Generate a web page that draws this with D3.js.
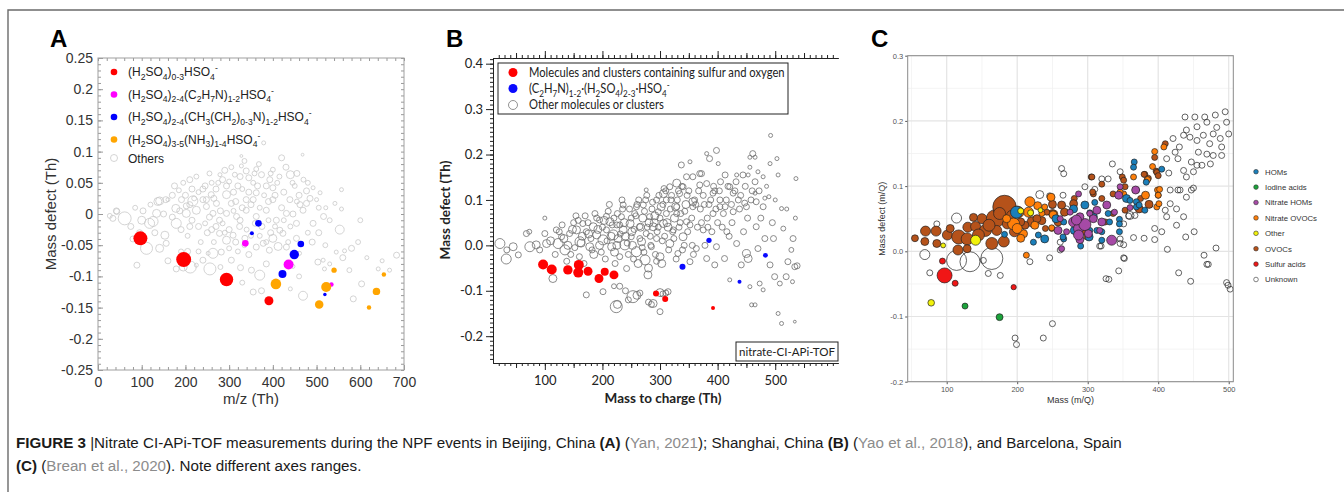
<!DOCTYPE html>
<html><head><meta charset="utf-8">
<script src="https://cdn.jsdelivr.net/npm/d3@7"></script>
<style>body{margin:0;background:#fff}svg{display:block}text{white-space:pre}</style>
</head><body><svg id="c" width="1344" height="492"></svg>
<script>
// ---------------- Panel A data: [m/z, mass defect, intensity] ----------------
const xDomainA = [0, 700], yDomainA = [-0.25, 0.25];
const xTicksA = [0,100,200,300,400,500,600,700];
const yTicksA = [-0.25,-0.2,-0.15,-0.1,-0.05,0,0.05,0.1,0.15,0.2,0.25];
const redA = [[97,-0.039,49],[196,-0.073,56],[294,-0.105,45],[391,-0.139,20]];
const magentaA = [[337,-0.047,11],[436,-0.081,25],[534,-0.113,5]];
const blueA = [[367,-0.015,11],[352,-0.031,4],[464,-0.048,11],[449,-0.065,22],[422,-0.096,16],[519,-0.129,3]];
const orangeA = [[407,-0.112,28],[522,-0.117,25],[506,-0.145,18],[540,-0.090,7],[637,-0.124,14],[654,-0.097,5],[620,-0.150,5]];
const othersA = [[379,0.114,4],[328,0.093,2],[468,0.095,2],[328,0.077,4],[339,0.069,9],[362,0.072,6],[313,0.063,6],[374,0.063,9],[400,0.071,6],[420,0.09,9],[440,0.063,16],[393,0.055,9],[355,0.05,6],[294,0.045,9],[279,0.063,4],[320,0.045,9],[477,0.037,9],[492,0.042,4],[508,0.034,4],[557,0.039,4],[294,0.031,16],[248,0.023,9],[217,0.021,25],[141,0.021,16],[160,0.023,4],[202,0.013,9],[187,0.005,9],[259,0.031,9],[400,0.042,9],[362,0.034,9],[339,0.023,9],[439,0.023,9],[462,0.015,9],[446,0.0,9],[500,0.023,4],[521,0.01,4],[42,0.005,9],[27,-0.003,6],[103,0.005,9],
[61,-0.007,42],[34,-0.007,9],[43,0.004,9],[126,-0.012,25],[118,-0.015,25],[111,-0.055,36],[141,-0.055,16],[153,-0.034,16],[156,-0.047,9],[179,-0.015,25],[134,0.001,16],[137,0.02,16],[155,0.023,9],[178,0.009,16],[191,0.023,9],[210,0.015,9],[202,0.001,16],[225,0.006,16],[240,0.023,9],[248,0.012,9],[263,0.001,9],[271,0.017,9],[278,-0.01,9],[294,0.001,9],[305,0.017,9],[317,-0.004,9],[324,-0.02,9],[339,0.006,9],[355,0.023,9],[362,-0.004,9],[385,0.006,9],[400,0.023,9],[408,-0.01,9],[416,-0.026,9],[431,0.001,9],[454,-0.015,9],[469,0.006,9],[477,0.017,9],[492,-0.015,9],[516,-0.004,9],[553,-0.025,20],[557,0.008,4],[542,0.017,4],[195,-0.085,16],[211,-0.085,36],[240,-0.074,9],[256,-0.088,36],[263,-0.063,25],[282,-0.061,9],[305,-0.074,9],[326,-0.086,9],[351,-0.09,9],[370,-0.098,25],[385,-0.08,9],[355,-0.125,9],[374,-0.123,9],[412,-0.052,16],[392,-0.058,9],[400,-0.039,16],[378,-0.047,9],[362,-0.053,9],[446,-0.084,4],[469,-0.131,20],[490,-0.045,9],[503,-0.077,9],[515,-0.074,4],[518,-0.088,4],[530,-0.08,4],[545,-0.061,4],[564,-0.059,4],[580,-0.055,9],[603,-0.112,9],[584,-0.136,9],[667,-0.09,4],[683,-0.066,9],[641,-0.088,4],[89,-0.082,9],[179,-0.088,9],[225,-0.082,4],[252,-0.063,4],[309,-0.034,9],[278,-0.031,9],[294,-0.042,16],[336,-0.039,9],[423,-0.031,9],[431,-0.053,9],[454,-0.039,9],[461,-0.063,4],
[170,0.03,9],[185,0.038,6],[200,0.03,9],[215,0.04,9],[230,0.035,6],[245,0.045,9],[260,0.05,6],[270,0.04,9],[285,0.055,9],[300,0.052,6],[310,0.035,9],[330,0.04,6],[345,0.058,9],[350,0.015,9],[365,0.045,9],[380,0.03,6],[390,0.02,9],[410,0.05,6],[425,0.035,9],[450,0.045,6],[460,0.03,9],[480,0.05,6],[170,-0.005,9],[190,-0.025,9],[205,-0.035,6],[215,-0.01,9],[230,-0.02,9],[235,-0.045,6],[250,-0.03,9],[255,-0.005,9],[265,-0.045,6],[270,-0.02,9],[285,-0.015,6],[300,-0.025,9],[300,-0.055,6],[315,-0.045,9],[320,-0.06,6],[330,0.01,9],[340,-0.025,6],[345,-0.065,9],[350,-0.035,6],[370,0.01,6],[375,-0.02,9],[390,-0.01,6],[395,-0.03,9],[420,0.01,9],[435,-0.045,6],[440,-0.02,6],[455,0.02,6],[480,-0.03,6],[505,-0.03,9],[520,-0.05,6],[505,0.01,6],[530,-0.01,6],[600,-0.01,6],[615,-0.07,4],[650,-0.075,4],[75,-0.02,9],[85,0.01,6],[95,-0.03,9],[205,-0.06,9],[230,-0.06,6],[160,-0.075,9],[190,-0.06,6],[280,-0.085,6],[330,-0.11,6],[410,-0.11,6],[440,-0.12,4],[460,-0.1,6],[575,-0.09,6],[595,-0.045,6],[560,-0.07,9],
[175,0.045,9],[195,0.05,6],[210,0.055,9],[225,0.06,6],[240,0.04,9],[255,0.065,6],[265,0.025,9],[275,0.05,6],[290,0.07,9],[305,0.075,6],[315,0.02,9],[325,0.06,9],[335,0.085,6],[345,0.035,9],[358,0.065,6],[368,0.08,6],[385,0.045,9],[395,0.065,6],[405,0.03,9],[415,0.06,6],[430,0.075,9],[445,0.05,6],[455,0.065,9],[470,0.055,6],[485,0.025,9],[210,-0.02,9],[220,0.025,6],[245,-0.015,6],[260,-0.025,9],[280,0.005,9],[290,-0.03,6],[310,0.005,6],[325,-0.01,9],[335,-0.05,6],[360,-0.015,9],[370,-0.035,6],[385,-0.045,6],[405,-0.02,6],[425,-0.01,6],[150,0.0,9],[120,0.015,6],[100,-0.01,16],[80,-0.04,9],[130,-0.03,9]];

// ---------------- Panel B data ----------------
const xDomainB = [10, 609], yDomainB = [-0.259, 0.4125];
const xTicksB = [100,200,300,400,500];
const yTicksB = [-0.2,-0.1,0.0,0.1,0.2,0.3,0.4];
const redB = [[97,-0.042,25],[112,-0.053,25],[140,-0.054,22],[158,-0.060,25],[159,-0.043,25],[175,-0.057,20],[194,-0.073,20],[204,-0.058,16],[220,-0.065,20],[293,-0.106,9],[309,-0.118,9],[392,-0.138,4]];
const blueB = [[339,-0.047,9],[385,0.011,7],[438,-0.080,4],[483,-0.022,6]];
const othersB = [[22,0.004,25],[33,-0.03,25],[34,-0.01,9],[45,-0.003,16],[54,-0.021,9],[68,0.026,9],[73,0.03,6],[74,-0.003,25],[85,0.001,16],[91,-0.01,9],[100,0.06,4],[100,0.026,9],[103,0.004,16],[114,-0.073,16],[120,0.034,9],[123,0.004,25],[129,0.019,9],[135,-0.01,25],[143,0.026,9],[154,0.065,9],[155,0.034,16],[161,0.008,25],[166,0.048,9],[172,0.03,9],[172,-0.109,9],[178,-0.003,16],[184,0.041,16],[190,0.023,16],[195,0.056,9],[201,0.012,25],[201,-0.102,9],[207,0.034,9],[213,0.052,16],[216,-0.003,16],[219,0.023,25],[225,0.045,9],[227,0.015,16],[230,-0.025,9],[233,0.063,9],[236,0.034,16],[239,0.001,25],[242,-0.051,9],[248,0.048,16],[250,0.019,9],[253,-0.113,36],[256,0.07,9],[259,-0.014,25],[265,0.041,9],[268,0.008,16],[271,0.089,9],[274,-0.032,25],[276,0.026,9],[279,-0.065,16],[282,0.063,9],[285,-0.003,9],[288,0.041,16],[288,-0.128,16],[294,0.015,9],[297,0.074,9],[300,-0.025,16],[300,-0.146,9],[306,0.048,16],[311,0.1,9],[314,-0.102,9],[317,0.004,16],[323,0.034,9],[329,0.07,9],[331,-0.018,9],[334,0.114,9],[340,0.019,16],[346,0.052,9],[352,-0.036,9],[357,0.085,9],[363,-0.007,9],[369,0.133,9],[375,0.034,9],[381,-0.029,9],[392,0.07,9],[395,-0.043,9],[398,-0.003,9],[404,0.1,9],[412,-0.029,9],[416,0.03,9],[421,-0.076,4],[427,0.074,9],[433,0.004,9],[441,-0.043,9],[447,0.093,9],[450,-0.018,16],[453,-0.029,16],[456,-0.091,4],[459,-0.131,4],[465,-0.131,4],[467,0.041,9],[470,-0.007,9],[473,-0.084,6],[479,-0.098,4],[482,0.015,9],[491,-0.043,9],[497,0.015,9],[499,-0.069,9],[505,-0.15,4],[508,-0.084,6],[511,-0.172,4],[514,0.037,6],[519,-0.069,9],[522,-0.036,9],[528,-0.01,6],[531,0.015,9],[534,-0.047,9],
[300,-0.104,16],[305,-0.107,9],[310,-0.105,9],[280,-0.125,9],[285,-0.13,9],[240,-0.1,9],[245,-0.12,9],[230,-0.09,9],[265,-0.105,9],[260,-0.11,16],[220,-0.09,6],[224,-0.135,36],[226,-0.13,16],
[207,0.064,9],[236,0.089,9],[259,0.085,9],[276,0.122,4],[294,0.1,9],[306,0.114,16],[317,0.129,9],[329,0.137,16],[337,0.177,9],[346,0.151,9],[352,0.184,4],[357,0.096,16],[369,0.158,9],[372,0.158,9],[381,0.202,4],[386,0.191,9],[398,0.209,9],[401,0.18,4],[413,0.155,9],[381,0.136,9],[392,0.115,9],[404,0.085,9],[427,0.115,9],[433,0.155,4],[444,0.155,9],[453,0.155,4],[456,0.194,4],[461,0.202,9],[465,0.194,4],[456,0.172,4],[470,0.162,4],[479,0.151,4],[491,0.18,4],[503,0.191,4],[492,0.242,4],[505,0.155,4],[536,0.147,4],[511,0.081,4],[421,0.129,9],[436,0.1,9],[450,0.085,9],[467,0.096,9],[479,0.085,9],[489,0.107,4],[465,0.115,4],[482,0.104,4],[357,0.151,9],[340,0.129,9],[329,0.085,9],
[130,0.045,9],[140,0.0,16],[145,-0.02,9],[150,0.05,9],[160,-0.025,9],[165,0.02,16],[175,0.05,9],[180,0.015,9],[185,-0.02,16],[190,0.06,9],[195,0.0,16],[200,0.04,9],[205,-0.03,9],[210,0.075,9],[215,0.02,16],[220,0.06,9],[222,-0.04,9],[225,0.0,16],[230,0.045,9],[235,0.08,9],[240,0.02,16],[245,-0.02,9],[250,0.06,9],[252,0.0,16],[255,0.035,9],[260,0.09,9],[262,-0.04,16],[265,0.015,9],[270,0.06,16],[272,-0.015,9],[275,0.1,9],[278,0.04,9],[280,-0.05,16],[283,0.02,9],[286,0.08,9],[290,0.05,16],[292,-0.02,9],[295,0.03,9],[298,0.11,9],[300,0.06,9],[303,-0.04,16],[305,0.09,9],[308,0.02,9],[310,0.12,9],[312,0.05,16],[315,-0.01,9],[318,0.08,9],[320,0.11,9],[322,0.03,9],[325,0.06,16],[328,-0.03,9],[330,0.1,9],[333,0.04,9],[336,0.07,9],[338,0.13,9],[342,0.0,9],[345,0.09,16],[348,0.03,9],[350,0.12,9],[355,0.06,9],[358,-0.02,9],[360,0.1,9],[365,0.04,9],[370,0.08,9],[375,0.11,9],[378,0.0,9],[382,0.06,9],[385,0.09,9],[390,0.03,9],[395,0.12,9],[400,0.05,9],[405,0.14,9],[410,0.07,9],[415,0.1,9],[420,0.02,9],[425,0.05,9],[430,0.12,9],[438,0.08,9],[445,0.03,9],[452,0.06,9],[460,0.12,9],[475,0.06,9],[485,0.13,4],[495,0.05,9],[500,0.1,4],[520,0.08,4],[535,0.06,4],[538,-0.045,9],[530,-0.08,4],[534,-0.168,2],
[110,0.01,16],[118,-0.02,9],[125,0.03,9],[133,0.015,16],[138,-0.035,9],[148,0.035,16],[152,-0.005,9],[158,0.055,9],[163,0.005,16],[168,-0.04,9],[170,0.065,9],[176,0.025,16],[182,-0.01,9],[187,0.07,9],[192,0.035,16],[198,-0.015,9],[203,0.055,16],[208,0.01,9],[212,0.09,9],[217,0.045,9],[221,-0.015,16],[226,0.07,9],[231,0.025,9],[234,0.1,9],[238,0.05,16],[243,0.005,9],[247,0.08,9],[251,0.03,16],[254,-0.03,9],[258,0.065,9],[263,0.1,9],[266,0.04,16],[269,-0.005,9],[273,0.075,9],[277,0.11,9],[281,0.05,16],[284,0.0,9],[287,0.095,9],[291,0.065,16],[294,-0.035,9],[297,0.04,9],[302,0.085,16],[304,0.01,9],[307,0.125,9],[311,0.07,9],[314,0.04,16],[319,0.1,9],[324,0.015,9],[327,0.085,16],[332,0.12,9],[335,0.05,9],[339,-0.01,9],[343,0.075,9],[347,0.11,9],[352,0.045,9],[356,0.0,9],[362,0.09,9],[367,0.12,9],[372,0.05,9],[377,0.09,9],[383,0.04,9],[388,0.1,9],[393,0.13,9],[397,0.08,9],[403,0.12,9],[408,0.04,9],[413,0.085,9],[418,0.13,9],[424,0.09,9],[432,0.14,9],[440,0.11,9],[448,0.13,9],[458,0.1,9],[465,0.14,9],[472,0.12,9]];

// ---------------- Panel C data ----------------
const xDomainC = [44.7, 506.5], yDomainC = [-0.2, 0.3];
const xTicksC = [100,200,300,400,500];
const yTicksC = [-0.2,-0.1,0.0,0.1,0.2,0.3];
const classesC = ["HOMs","Iodine acids","Nitrate HOMs","Nitrate OVOCs","Other","OVOCs","Sulfur acids","Unknown"];
const unknownC = [[114,0.051,25],[86,0.042,9],[69,-0.005,25],[76,-0.033,9],[114,-0.014,100],[133,-0.016,100],[164,-0.011,121],[152,-0.014,9],[159,-0.034,9],[176,-0.037,9],[197,-0.133,9],[199,-0.143,9],[237,-0.133,9],[250,-0.111,9],[218,-0.016,9],[246,-0.01,9],[261,0.002,9],[261,0.014,9],[317,0.008,9],[351,0.01,9],[351,-0.01,9],[344,-0.03,9],[326,-0.042,9],[330,-0.043,9],[351,0.042,9],[358,0.054,9],[365,0.021,9],[395,0.035,9],[395,0.018,9],[232,0.087,16],[246,0.085,9],[265,0.086,9],[296,0.099,9],[263,0.127,9],[266,0.119,9],[320,0.111,9],[329,0.111,9],[335,0.134,9],[346,0.122,9],[360,0.055,16],[367,0.055,9],[319,0.008,9],[346,0.012,9],[346,0.019,9],[352,-0.011,9],[405,0.03,9],[413,0.003,9],[421,0.173,9],[412,0.142,9],[424,0.152,9],[428,0.142,9],[417,0.094,9],[431,0.094,9],[417,0.073,9],[426,0.065,9],[410,0.063,9],[412,0.053,9],[436,0.053,9],[426,0.04,9],[440,0.083,9],[440,0.114,9],[447,0.094,9],[450,0.097,9],[438,0.206,9],[452,0.206,9],[466,0.206,9],[481,0.209,9],[495,0.214,9],[497,0.198,9],[469,0.198,9],[455,0.191,9],[440,0.186,9],[436,0.178,9],[445,0.175,9],[455,0.17,9],[464,0.178,9],[478,0.18,9],[488,0.173,9],[500,0.18,9],[473,0.165,9],[457,0.152,9],[469,0.149,9],[478,0.147,9],[490,0.147,9],[455,0.132,9],[462,0.132,9],[474,0.134,9],[447,0.137,9],[436,0.124,9],[450,0.122,9],[439,0.022,9],[451,0.03,9],[482,0.005,9],[465,-0.006,9],[469,-0.02,9],[471,-0.02,9],[429,-0.033,9],[446,-0.046,9],[497,-0.048,9],[499,-0.052,9],[502,-0.058,9],[483,0.19,9],[428,0.094,9],[160,0.04,9],[205,0.035,9],[220,0.05,9],[250,0.07,9],[270,0.065,9],[310,0.095,9],[380,0.02,9],[415,0.12,9],[430,0.16,9],[490,0.16,9]];
const ovocC = [[55,0.02,12],[69,0.015,16],[70,0.031,25],[85,0.031,25],[86,0.012,16],[101,0.025,25],[117,0.022,49],[116,0.002,25],[130,0.037,25],[129,0.019,36],[129,0.004,16],[141,0.038,25],[150,0.05,25],[155,0.032,36],[164,0.012,36],[169,0.05,81],[182,0.068,137],[181,0.015,30],[171,0.032,25],[186,0.042,25],[221,0.045,25],[211,0.04,16],[235,0.047,16],[250,0.058,16],[267,0.06,16],[281,0.081,9],[250,0.072,16],[294,0.03,9],[308,0.088,9],[325,0.045,9],[336,0.058,9],[353,0.063,9],[373,0.065,16],[388,0.071,9],[400,0.086,9],[305,0.114,9],[320,0.103,9],[349,0.114,9],[381,0.118,9],[386,0.112,9],[395,0.144,9],[397,0.123,9],[280,0.073,16],[263,0.071,16],[242,0.06,9],[306,0.114,9],[351,0.109,9],[353,0.099,9],[375,0.081,9],[387,0.072,16],[410,0.165,9],[380,0.118,9],[398,0.121,9],[400,0.116,9],[307,0.091,9],[336,0.088,9],[320,0.081,9],[196,0.03,25],[205,0.045,16],[228,0.05,16],[175,0.058,36],[160,0.04,36],[145,0.025,36],[105,0.035,16],[138,0.052,16],[192,0.055,25],[240,0.035,9],[258,0.045,16]];
const nitOvocC = [[216,0.06,25],[229,0.07,16],[218,0.076,25],[201,0.06,36],[195,0.042,36],[209,0.027,16],[213,-0.006,9],[252,0.057,16],[249,0.035,9],[247,0.083,9],[299,0.022,9],[351,0.088,9],[382,0.086,16],[398,0.068,9],[365,0.114,9],[384,0.109,9],[395,0.153,9],[392,0.13,9],[399,0.094,9],[248,0.083,16],[251,0.056,16],[249,0.036,9],[408,0.16,9],[385,0.11,9],[402,0.095,9],[401,0.073,9],[400,0.086,9],[346,0.091,9],[239,0.068,9],[235,0.058,9],[200,0.035,25],[225,0.04,16],[185,0.05,16],[205,0.02,16]];
const homC = [[199,0.06,36],[182,0.026,9],[223,0.014,9],[239,0.019,16],[266,0.019,9],[280,0.065,16],[296,0.071,16],[285,0.045,16],[266,0.045,9],[308,0.053,16],[302,0.022,16],[313,0.032,9],[320,0.03,9],[320,0.017,9],[329,0.058,9],[331,0.045,9],[345,0.049,9],[355,0.081,16],[345,0.03,9],[369,0.076,9],[381,0.063,9],[366,0.137,9],[365,0.129,9],[383,0.106,9],[405,0.126,9],[265,0.022,9],[281,0.032,16],[303,0.059,9],[303,0.032,9],[360,0.078,9],[369,0.068,9],[373,0.071,9],[345,0.042,9],[255,0.05,16],[290,0.008,9],[310,0.075,9],[230,0.025,9]];
const nitHomC = [[261,0.05,9],[280,0.045,25],[287,0.035,25],[296,0.041,36],[289,0.053,16],[313,0.063,16],[303,0.058,9],[327,0.071,16],[344,0.086,16],[334,0.017,25],[263,0.004,9],[289,0.018,16],[270,0.03,9],[258,0.032,16],[284,0.048,25],[287,0.025,25],[308,0.05,16],[346,0.099,9],[369,0.094,9],[360,0.067,9],[301,0.027,16],[317,0.032,9],[287,0.088,9],[368,0.094,16],[275,0.06,9],[320,0.045,16],[338,0.06,9]];
const otherC = [[78,-0.079,11],[141,0.017,25],[95,0.009,6],[205,0.062,9],[219,0.059,9],[233,0.063,6]];
const iodineC = [[126,-0.084,9],[175,-0.101,12]];
const sulfurC = [[97,-0.037,56],[94,-0.015,9],[112,-0.049,9],[195,-0.055,7]];

// ================= drawing =================
const svg = d3.select('#c');
const SANS = "'Liberation Sans', Arial, sans-serif";
const CAL = "Lato, 'Open Sans', sans-serif";
const minusFmt = (dec) => d => { const s = dec == null ? String(+d.toFixed(2)) : d.toFixed(dec); return s === '-0.0' ? '0.0' : s; };

svg.append('path').attr('d','M8,492V10H1344').attr('fill','none').attr('stroke','#6b6b6b').attr('stroke-width',1.4);

[['A',50],['B',446],['C',871]].forEach(([t,x]) => svg.append('text').attr('x',x).attr('y',47).attr('font-family',SANS).attr('font-weight','bold').attr('font-size',24).attr('fill','#000').text(t));

// rich text: parts [text, mode] with mode n normal, b subscript, p superscript
function rich(t, parts, fs, stackDx){
  let cur = 0;
  parts.forEach(([s, m]) => {
    const off = m === 'b' ? fs*0.3 : m === 'p' ? -fs*0.38 : 0;
    const ts = t.append('tspan').attr('dy', off - cur).attr('font-size', m === 'n' ? fs : fs*0.72).text(s);
    if (m === 'p' && stackDx) ts.attr('dx', -stackDx);
    cur = off;
  });
  t.append('tspan').attr('dy', -cur).text('');
}

// ---------- Panel A ----------
{
  const L=98,R=404,T=58,B=370;
  const x = d3.scaleLinear().domain(xDomainA).range([L,R]);
  const y = d3.scaleLinear().domain(yDomainA).range([B,T]);
  const r = d3.scaleSqrt().domain([0,100]).range([0,10]);
  const g = svg.append('g');
  const ax = (sel) => { sel.select('.domain').remove(); sel.selectAll('line').attr('stroke','#999'); sel.selectAll('text').attr('font-family',SANS).attr('font-size',14).attr('fill','#333'); };
  g.append('g').attr('transform',`translate(0,${B})`).call(d3.axisBottom(x).tickValues(d3.range(0,701,20)).tickSize(-3).tickFormat('')).call(ax);
  g.append('g').attr('transform',`translate(0,${T})`).call(d3.axisTop(x).tickValues(d3.range(0,701,20)).tickSize(-3).tickFormat('')).call(ax);
  g.append('g').attr('transform',`translate(${L},0)`).call(d3.axisLeft(y).tickValues(d3.range(-0.25,0.2501,0.01)).tickSize(-3).tickFormat('')).call(ax);
  g.append('g').attr('transform',`translate(${R},0)`).call(d3.axisRight(y).tickValues(d3.range(-0.25,0.2501,0.01)).tickSize(-3).tickFormat('')).call(ax);
  g.append('g').attr('transform',`translate(0,${B})`).call(d3.axisBottom(x).tickValues(xTicksA).tickSize(-5).tickPadding(7).tickFormat(d3.format('d'))).call(ax);
  g.append('g').attr('transform',`translate(${L},0)`).call(d3.axisLeft(y).tickValues(yTicksA).tickSize(-5).tickPadding(5).tickFormat(minusFmt())).call(ax);
  g.append('rect').attr('x',L).attr('y',T).attr('width',R-L).attr('height',B-T).attr('fill','none').attr('stroke','#a0a0a0').attr('stroke-width',1);
  g.append('text').attr('x',(L+R)/2).attr('y',404).attr('text-anchor','middle').attr('font-family',SANS).attr('font-size',15).attr('fill','#333').text('m/z (Th)');
  g.append('text').attr('transform','translate(56,214) rotate(-90)').attr('text-anchor','middle').attr('font-family',SANS).attr('font-size',15).attr('fill','#333').text('Mass defect (Th)');
  g.append('g').selectAll('circle').data(othersA).join('circle').attr('cx',d=>x(d[0])).attr('cy',d=>y(d[1])).attr('r',d=>r(d[2])).attr('fill','none').attr('stroke','#c9c9c9').attr('stroke-width',0.8);
  [[redA,'#ff0000'],[magentaA,'#ff00ff'],[blueA,'#0000ff'],[orangeA,'#ffa500']].forEach(([data,col]) =>
    g.append('g').selectAll('circle').data(data).join('circle').attr('cx',d=>x(d[0])).attr('cy',d=>y(d[1])).attr('r',d=>r(d[2])).attr('fill',col));
  const leg = [
    ['#ff0000', [['(H','n'],['2','b'],['SO','n'],['4','b'],[')','n'],['0-3','b'],['HSO','n'],['4','b'],['-','p']]],
    ['#ff00ff', [['(H','n'],['2','b'],['SO','n'],['4','b'],[')','n'],['2-4','b'],['(C','n'],['2','b'],['H','n'],['7','b'],['N)','n'],['1-2','b'],['HSO','n'],['4','b'],['-','p']]],
    ['#0000ff', [['(H','n'],['2','b'],['SO','n'],['4','b'],[')','n'],['2-4','b'],['(CH','n'],['3','b'],['(CH','n'],['2','b'],[')','n'],['0-3','b'],['N)','n'],['1-2','b'],['HSO','n'],['4','b'],['-','p']]],
    ['#ffa500', [['(H','n'],['2','b'],['SO','n'],['4','b'],[')','n'],['3-5','b'],['(NH','n'],['3','b'],[')','n'],['1-4','b'],['HSO','n'],['4','b'],['-','p']]]
  ];
  const ly = [72,94.5,117,139.5];
  leg.forEach(([col,parts],i) => {
    g.append('circle').attr('cx',114).attr('cy',ly[i]).attr('r',3.3).attr('fill',col);
    const t = g.append('text').attr('x',128).attr('y',ly[i]+4).attr('font-family',SANS).attr('font-size',12).attr('fill','#222');
    rich(t, parts, 12, 0);
  });
  g.append('circle').attr('cx',114).attr('cy',158).attr('r',3.5).attr('fill','none').attr('stroke','#c9c9c9').attr('stroke-width',0.8);
  g.append('text').attr('x',128).attr('y',162.5).attr('font-family',SANS).attr('font-size',12).attr('fill','#222').text('Others');
}

// ---------- Panel B ----------
{
  const L=493,R=838,T=58,B=363;
  const x = d3.scaleLinear().domain(xDomainB).range([L,R]);
  const y = d3.scaleLinear().domain(yDomainB).range([B,T]);
  const r = d3.scaleSqrt().domain([0,100]).range([0,10]);
  const g = svg.append('g');
  const ax = (sel) => { sel.select('.domain').attr('stroke','#222'); sel.selectAll('line').attr('stroke','#222'); sel.selectAll('text').attr('font-family',CAL).attr('font-size',13).attr('fill','#222'); };
  const xMinor = d3.range(20,609,10), xMid = d3.range(50,609,100);
  const yMinor = d3.range(-25,42,1).map(v=>v/100);
  g.append('g').attr('transform',`translate(0,${B})`).call(d3.axisBottom(x).tickValues(xMinor).tickSize(3).tickFormat('').tickSizeOuter(0)).call(ax);
  g.append('g').attr('transform',`translate(0,${B})`).call(d3.axisBottom(x).tickValues(xMid).tickSize(5).tickFormat('').tickSizeOuter(0)).call(ax);
  g.append('g').attr('transform',`translate(0,${B})`).call(d3.axisBottom(x).tickValues(xTicksB).tickSize(7).tickPadding(6).tickSizeOuter(0).tickFormat(d3.format('d'))).call(ax);
  g.append('g').attr('transform',`translate(0,${T})`).call(d3.axisTop(x).tickValues(xMinor).tickSize(3).tickFormat('').tickSizeOuter(0)).call(ax);
  g.append('g').attr('transform',`translate(0,${T})`).call(d3.axisTop(x).tickValues(xMid).tickSize(5).tickFormat('').tickSizeOuter(0)).call(ax);
  g.append('g').attr('transform',`translate(0,${T})`).call(d3.axisTop(x).tickValues(xTicksB).tickSize(7).tickFormat('').tickSizeOuter(0)).call(ax);
  g.append('g').attr('transform',`translate(${L},0)`).call(d3.axisLeft(y).tickValues(yMinor).tickSize(3).tickFormat('').tickSizeOuter(0)).call(ax);
  g.append('g').attr('transform',`translate(${L},0)`).call(d3.axisLeft(y).tickValues(yTicksB).tickSize(7).tickPadding(3).tickSizeOuter(0).tickFormat(minusFmt(1))).call(ax);
  g.append('text').attr('x',663).attr('y',403).attr('text-anchor','middle').attr('font-family',CAL).attr('font-weight','bold').attr('font-size',13.5).attr('fill','#222').text('Mass to charge (Th)');
  g.append('text').attr('transform','translate(450,210) rotate(-90)').attr('text-anchor','middle').attr('font-family',CAL).attr('font-weight','bold').attr('font-size',13.5).attr('fill','#222').text('Mass defect (Th)');
  g.append('g').selectAll('circle').data(othersB).join('circle').attr('cx',d=>x(d[0])).attr('cy',d=>y(d[1])).attr('r',d=>r(d[2])).attr('fill','none').attr('stroke','#6e6e6e').attr('stroke-width',0.8);
  g.append('g').selectAll('circle').data(redB).join('circle').attr('cx',d=>x(d[0])).attr('cy',d=>y(d[1])).attr('r',d=>r(d[2])).attr('fill','#ff0000');
  g.append('g').selectAll('circle').data(blueB).join('circle').attr('cx',d=>x(d[0])).attr('cy',d=>y(d[1])).attr('r',d=>r(d[2])).attr('fill','#0a0aff');
  g.append('rect').attr('x',498).attr('y',63).attr('width',290).attr('height',51).attr('fill','#fff').attr('stroke','#222').attr('stroke-width',1);
  g.append('circle').attr('cx',513).attr('cy',72.5).attr('r',4.5).attr('fill','#ff0000');
  g.append('circle').attr('cx',513).attr('cy',88.5).attr('r',4.5).attr('fill','#0a0aff');
  g.append('circle').attr('cx',513).attr('cy',105).attr('r',4.5).attr('fill','none').attr('stroke','#777').attr('stroke-width',0.8);
  const lg = g.append('g');
  const l1 = lg.append('text').attr('x',0).attr('y',77).attr('font-family',CAL).attr('font-size',13).attr('fill','#222').text('Molecules and clusters containing sulfur and oxygen');
  const t2 = lg.append('text').attr('x',0).attr('y',93).attr('font-family',CAL).attr('font-size',13).attr('fill','#222');
  rich(t2, [['(C','n'],['2','b'],['H','n'],['7','b'],['N)','n'],['1-2','b'],['·(H','n'],['2','b'],['SO','n'],['4','b'],[')','n'],['2-3','b'],['·HSO','n'],['4','b'],['-','p']], 13, 0);
  lg.append('text').attr('x',0).attr('y',109.5).attr('font-family',CAL).attr('font-size',13).attr('fill','#222').text('Other molecules or clusters');
  const sx = 256 / l1.node().getComputedTextLength();
  lg.attr('transform',`translate(529,0) scale(${sx},1)`);
  g.append('rect').attr('x',736).attr('y',342).attr('width',102).attr('height',19).attr('fill','#fff').attr('stroke','#222').attr('stroke-width',1);
  g.append('text').attr('x',739).attr('y',356).attr('font-family',CAL).attr('font-size',12).attr('fill','#222').attr('textLength',96).attr('lengthAdjust','spacingAndGlyphs').text('nitrate-CI-APi-TOF');
}

// ---------- Panel C ----------
{
  const L=907.7,R=1233.3,T=55.7,B=381.7;
  const x = d3.scaleLinear().domain(xDomainC).range([L,R]);
  const y = d3.scaleLinear().domain(yDomainC).range([B,T]);
  const r = d3.scaleSqrt().domain([0,144]).range([0,12]);
  const g = svg.append('g');
  [50,150,250,350,450].forEach(v => g.append('line').attr('x1',x(v)).attr('x2',x(v)).attr('y1',T).attr('y2',B).attr('stroke','#f1f1f1').attr('stroke-width',0.8));
  [-0.15,-0.05,0.05,0.15,0.25].forEach(v => g.append('line').attr('y1',y(v)).attr('y2',y(v)).attr('x1',L).attr('x2',R).attr('stroke','#f1f1f1').attr('stroke-width',0.8));
  xTicksC.forEach(v => g.append('line').attr('x1',x(v)).attr('x2',x(v)).attr('y1',T).attr('y2',B).attr('stroke','#e4e4e4').attr('stroke-width',1.2));
  yTicksC.forEach(v => g.append('line').attr('y1',y(v)).attr('y2',y(v)).attr('x1',L).attr('x2',R).attr('stroke','#e4e4e4').attr('stroke-width',1.2));
  const ax = (sel) => { sel.select('.domain').remove(); sel.selectAll('line').attr('stroke','#555'); sel.selectAll('text').attr('font-family',SANS).attr('font-size',7.5).attr('fill','#555'); };
  g.append('g').attr('transform',`translate(0,${B})`).call(d3.axisBottom(x).tickValues(xTicksC).tickSize(2.5).tickPadding(2).tickFormat(d3.format('d'))).call(ax);
  g.append('g').attr('transform',`translate(${L},0)`).call(d3.axisLeft(y).tickValues(yTicksC).tickSize(2.5).tickPadding(2).tickFormat(minusFmt(1))).call(ax);
  g.append('text').attr('x',(L+R)/2).attr('y',403).attr('text-anchor','middle').attr('font-family',SANS).attr('font-size',9).attr('fill','#333').text('Mass (m/Q)');
  g.append('text').attr('transform',`translate(885,${(T+B)/2}) rotate(-90)`).attr('text-anchor','middle').attr('font-family',SANS).attr('font-size',9).attr('fill','#333').text('Mass defect (m/Q)');
  const cols = {"HOMs":'#1b7fba',"Iodine acids":'#1ba33b',"Nitrate HOMs":'#a64aa6',"Nitrate OVOCs":'#ff7f0a',"Other":'#f2f20a',"OVOCs":'#b5521a',"Sulfur acids":'#f01616',"Unknown":'none'};
  const plotG = g.append('g');
  const layer = (data, cls) => plotG.append('g').selectAll('circle').data(data).join('circle')
    .attr('cx',d=>x(d[0])).attr('cy',d=>y(d[1])).attr('r',d=>r(d[2])).attr('fill',cols[cls]).attr('stroke','#222').attr('stroke-width',0.7);
  layer(unknownC,'Unknown'); layer(ovocC,'OVOCs'); layer(nitOvocC,'Nitrate OVOCs'); layer(homC,'HOMs'); layer(nitHomC,'Nitrate HOMs');
  layer(otherC,'Other'); layer(iodineC,'Iodine acids'); layer(sulfurC,'Sulfur acids');
  g.append('rect').attr('x',L).attr('y',T).attr('width',R-L).attr('height',B-T).attr('fill','none').attr('stroke','#8a8a8a').attr('stroke-width',1);
  classesC.forEach((c,i) => {
    const yy = 171.7 + i*15.4;
    g.append('circle').attr('cx',1256).attr('cy',yy).attr('r',2.3).attr('fill',cols[c]==='none'?'#fff':cols[c]).attr('stroke','#333').attr('stroke-width',0.6);
    g.append('text').attr('x',1265).attr('y',yy+2.8).attr('font-family',SANS).attr('font-size',7.8).attr('fill','#333').text(c);
  });
}

// ---------- Caption ----------
function captionLine(yb, parts){
  const g = svg.append('g');
  const t = g.append('text').attr('x',0).attr('y',0).attr('font-family',SANS).attr('font-size',14.5).attr('fill','#1a1a1a');
  parts.forEach(([s,m]) => { const ts = t.append('tspan').text(s); if (m==='b') ts.attr('font-weight','bold'); if (m==='g') ts.attr('fill','#8c8c8c'); });
  return {g, w: t.node().getComputedTextLength(), yb};
}
const c1 = captionLine(448, [['FIGURE 3 ','b'],['|','n'],['Nitrate CI-APi-TOF measurements during the NPF events in Beijing, China ','n'],['(A)','b'],[' (','n'],['Yan, 2021','g'],['); Shanghai, China ','n'],['(B)','b'],[' (','n'],['Yao et al., 2018','g'],['), and Barcelona, Spain','n']]);
const c2 = captionLine(471, [['(C)','b'],[' (','n'],['Brean et al., 2020','g'],['). Note different axes ranges.','n']]);
const capScale = 1107 / c1.w;
[c1,c2].forEach(c => c.g.attr('transform', `translate(16,${c.yb}) scale(${capScale},1)`));
</script></body></html>
